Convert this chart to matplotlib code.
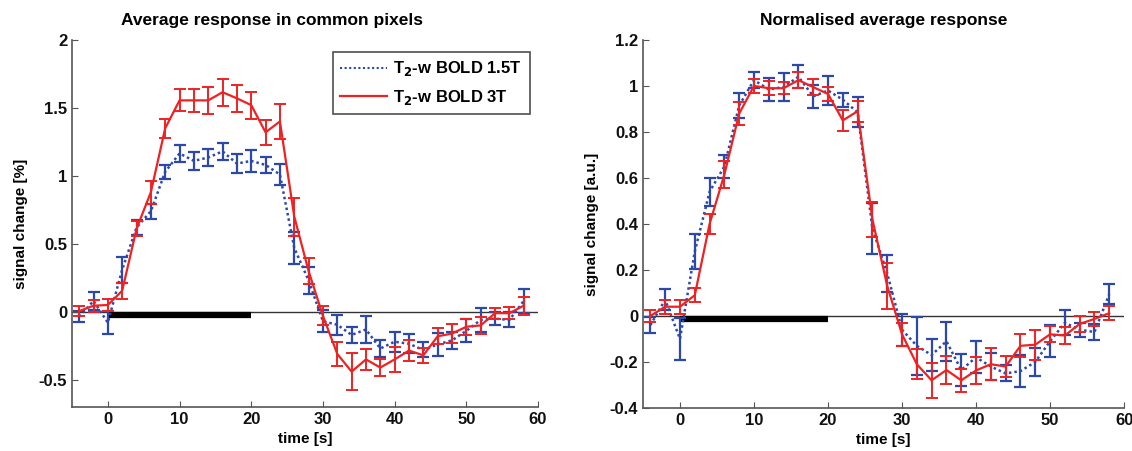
import matplotlib
matplotlib.use('Agg')
import matplotlib.pyplot as plt
from matplotlib.lines import Line2D

plt.rcParams['font.family'] = ['Liberation Sans', 'DejaVu Sans']
plt.rcParams['font.weight'] = 'bold'

# tiempo [s]
tiempo = list(range(-4, 60, 2))

# respuesta media (%)
media_15T = [-0.035, 0.08, -0.08, 0.31, 0.62, 0.74, 1.03, 1.165, 1.11, 1.135, 1.18, 1.09,
             1.11, 1.08, 1.01, 0.47, 0.23, -0.07, -0.095, -0.17, -0.13, -0.27, -0.22, -0.235,
             -0.28, -0.24, -0.21, -0.14, -0.06, -0.05, -0.06, 0.08]
error_15T = [0.04, 0.065, 0.085, 0.095, 0.055, 0.055, 0.05, 0.06, 0.065, 0.065, 0.06, 0.07,
             0.08, 0.06, 0.075, 0.115, 0.1, 0.08, 0.075, 0.06, 0.1, 0.065, 0.075, 0.07,
             0.055, 0.085, 0.065, 0.085, 0.085, 0.045, 0.055, 0.09]
media_3T = [0.005, 0.045, 0.05, 0.155, 0.61, 0.88, 1.35, 1.555, 1.555, 1.555, 1.615, 1.57,
            1.52, 1.32, 1.40, 0.7, 0.30, -0.03, -0.31, -0.44, -0.35, -0.41, -0.35, -0.285,
            -0.32, -0.18, -0.16, -0.11, -0.10, -0.01, -0.01, 0.045]
error_3T = [0.035, 0.045, 0.045, 0.06, 0.055, 0.085, 0.07, 0.08, 0.085, 0.1, 0.1, 0.1,
            0.1, 0.09, 0.13, 0.14, 0.095, 0.07, 0.09, 0.135, 0.08, 0.065, 0.09, 0.08,
            0.055, 0.06, 0.07, 0.06, 0.065, 0.04, 0.045, 0.065]

# respuesta normalizada (u.a.)
norm_15T = [-0.04, 0.07, -0.10, 0.28, 0.54, 0.65, 0.915, 1.025, 0.985, 0.995, 1.04, 0.955,
            0.98, 0.94, 0.885, 0.38, 0.185, -0.06, -0.13, -0.17, -0.11, -0.235, -0.18, -0.22,
            -0.25, -0.24, -0.20, -0.11, -0.03, -0.06, -0.07, 0.095]
err_norm_15T = [0.035, 0.045, 0.09, 0.075, 0.06, 0.05, 0.055, 0.035, 0.05, 0.06, 0.05, 0.05,
                0.065, 0.03, 0.065, 0.11, 0.08, 0.07, 0.125, 0.07, 0.085, 0.07, 0.07, 0.06,
                0.035, 0.07, 0.06, 0.07, 0.055, 0.03, 0.035, 0.045]
norm_3T = [0.0, 0.04, 0.04, 0.09, 0.40, 0.615, 0.88, 1.0, 0.99, 0.99, 1.025, 0.995,
           0.965, 0.85, 0.89, 0.42, 0.13, -0.08, -0.21, -0.28, -0.235, -0.28, -0.237, -0.21,
           -0.22, -0.13, -0.125, -0.08, -0.085, -0.035, -0.013, 0.012]
err_norm_3T = [0.025, 0.03, 0.03, 0.03, 0.045, 0.06, 0.05, 0.03, 0.03, 0.025, 0.035, 0.035,
               0.03, 0.045, 0.045, 0.075, 0.1, 0.05, 0.065, 0.075, 0.06, 0.05, 0.06, 0.07,
               0.045, 0.05, 0.065, 0.035, 0.035, 0.035, 0.03, 0.03]

estimulo = [0, 20]

etiqueta_15T = 'T$_\\mathbf{2}$-w BOLD 1.5T'
etiqueta_3T = 'T$_\\mathbf{2}$-w BOLD 3T'

azul = '#2c48a8'
rojo = '#ee2222'
punteado = (0, (1, 1.2))


def dibujar(ax, m15, e15, m3, e3, titulo, xtitulo, ylabel, ylim, yticks, leyenda):
    ax.axhline(0, color='#333333', lw=1.0, zorder=1)
    ax.plot(estimulo, [-0.008 * (ylim[1] - ylim[0])] * 2, color='black', lw=4.5,
            solid_capstyle='butt', zorder=2)
    ax.errorbar(tiempo, m15, yerr=e15, color=azul, ls=punteado, lw=1.8, elinewidth=1.6,
                capsize=4, capthick=1.6, zorder=3)
    ax.errorbar(tiempo, m3, yerr=e3, color=rojo, ls='-', lw=1.6, elinewidth=1.4,
                capsize=4, capthick=1.4, zorder=4)
    ax.set_xlim(-5, 60)
    ax.set_ylim(ylim)
    ax.set_xticks([0, 10, 20, 30, 40, 50, 60])
    ax.set_yticks(yticks)
    ax.set_yticklabels([('%g' % v) for v in yticks])
    ax.set_title(titulo, fontsize=12.5, fontweight='bold', pad=11, x=xtitulo)
    ax.set_xlabel('time [s]', fontsize=11, fontweight='bold', labelpad=4)
    ax.set_ylabel(ylabel, fontsize=11, fontweight='bold', labelpad=8)
    ax.tick_params(direction='in', labelsize=12, length=4, color='#555555', labelcolor='#111111')
    for lado in ['top', 'right']:
        ax.spines[lado].set_visible(False)
    for lado in ['left', 'bottom']:
        ax.spines[lado].set_color('#555555')
        ax.spines[lado].set_linewidth(1.2)
    if leyenda:
        manijas = [Line2D([], [], color=azul, ls=punteado, lw=1.5),
                   Line2D([], [], color=rojo, ls='-', lw=1.6)]
        leg = ax.legend(manijas, [etiqueta_15T, etiqueta_3T], loc='upper right',
                        bbox_to_anchor=(1.0, 0.99), fancybox=False,
                        edgecolor='#222222', fontsize=12, handlelength=2.8,
                        handletextpad=0.4, borderpad=0.45, labelspacing=0.55)
        leg.get_frame().set_linewidth(1.2)


fig = plt.figure(figsize=(11.32, 4.51), dpi=100)
ax1 = fig.add_axes([0.0636, 0.0976, 0.4117, 0.814])
ax2 = fig.add_axes([0.568, 0.0955, 0.425, 0.816])

dibujar(ax1, media_15T, error_15T, media_3T, error_3T, 'Average response in common pixels', 0.43,
        'signal change [%]', (-0.7, 2), [-0.5, 0, 0.5, 1, 1.5, 2], True)
dibujar(ax2, norm_15T, err_norm_15T, norm_3T, err_norm_3T, 'Normalised average response', 0.5,
        'signal change [a.u.]', (-0.4, 1.2), [-0.4, -0.2, 0, 0.2, 0.4, 0.6, 0.8, 1, 1.2], False)

fig.savefig('out.png', dpi=100)
